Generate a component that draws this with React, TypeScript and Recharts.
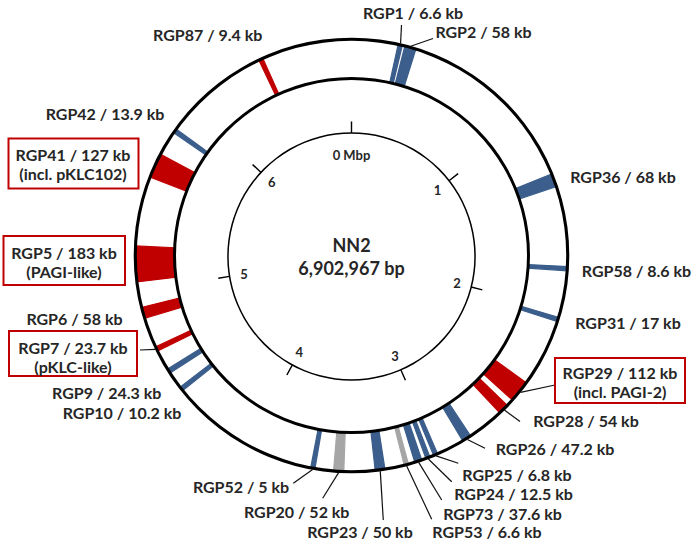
import { PieChart, Pie, Cell } from "recharts";

// genome NN2
const GENOME_KB = 6902.967;
const GENOME_LABEL = "6,902,967 bp";
const STRAIN = "NN2";

// regions of genomic plasticity, in genome order (centre position)
const RGP_NAMES = [
  "RGP1", "RGP2", "RGP36", "RGP58", "RGP31", "RGP29", "RGP28", "RGP26",
  "RGP25", "RGP24", "RGP73", "RGP53", "RGP23", "RGP20", "RGP52", "RGP10",
  "RGP9", "RGP7", "RGP6", "RGP5", "RGP41", "RGP42", "RGP87",
];
const RGP_CENTER_KB = [
  250, 303, 1334.6, 1792.9, 2055.6, 2473.6, 2594.4, 2834.1,
  3012.4, 3054.6, 3106.4, 3169.7, 3305.8, 3516.7, 3649.0, 4446.7,
  4557.9, 4686.4, 4882.0, 5134.1, 5649.0, 5852.3, 6427.5,
];
const RGP_SIZE_KB = [
  6.6, 58, 68, 8.6, 17, 112, 54, 47.2,
  6.8, 12.5, 37.6, 6.6, 50, 52, 5, 10.2,
  24.3, 23.7, 58, 183, 127, 13.9, 9.4,
];
const RGP_KIND = [
  "blue", "blue", "blue", "blue", "blue", "red", "red", "blue",
  "blue", "blue", "blue", "grey", "blue", "grey", "blue", "blue",
  "blue", "red", "red", "red", "red", "blue", "red",
];
const RGP_NOTES: Record<string, string> = {
  RGP41: "(incl. pKLC102)",
  RGP5: "(PAGI-like)",
  RGP7: "(pKLC-like)",
  RGP29: "(incl. PAGI-2)",
};

const TICK_MBP = [0, 1, 2, 3, 4, 5, 6];
const TICK_LABELS = ["0 Mbp", "1", "2", "3", "4", "5", "6"];

// ---- styling / layout ----
const COLORS: Record<string, string> = {
  blue: "#3B5E8C",
  red: "#C00000",
  grey: "#A6A6A6",
};
const TEXT = "#262626";
const FONT = "Lato, 'Open Sans', sans-serif";
const CX = 351.5;
const CY = 255.5;
const MIN_KB = 22; // thinnest drawn width
const TICK_KB = 12;

// text centre, optional leader end, optional box
type Lay = { x: number; y: number; lx?: number; ly?: number; box?: [number, number, number, number] };
const LABEL_LAYOUT: Record<string, Lay> = {
  RGP1: { x: 413, y: 12, lx: 401.5, ly: 25 },
  RGP2: { x: 483.5, y: 31, lx: 433, ly: 38.5 },
  RGP36: { x: 623, y: 176 },
  RGP58: { x: 636.5, y: 270 },
  RGP31: { x: 628, y: 322 },
  RGP29: { x: 620, y: 372, lx: 555, ly: 385, box: [555, 358, 130, 45] },
  RGP28: { x: 586, y: 420, lx: 520, ly: 421.5 },
  RGP26: { x: 555, y: 448.5, lx: 485, ly: 448.3 },
  RGP25: { x: 517, y: 474.5, lx: 458.3, ly: 463.3 },
  RGP24: { x: 513.5, y: 493.5, lx: 451.7, ly: 481.7 },
  RGP73: { x: 502.5, y: 513.5, lx: 441.7, ly: 500 },
  RGP53: { x: 487, y: 531.5, lx: 431.7, ly: 519.3 },
  RGP23: { x: 360, y: 531.5, lx: 383.3, ly: 520 },
  RGP20: { x: 296.7, y: 511.5, lx: 322.7, ly: 498.3 },
  RGP52: { x: 241, y: 486, lx: 293.3, ly: 483.3 },
  RGP10: { x: 122, y: 412.3 },
  RGP9: { x: 106.7, y: 392.3 },
  RGP7: { x: 73, y: 347, lx: 140, ly: 350, box: [9, 331, 128, 45] },
  RGP6: { x: 74.5, y: 318.3 },
  RGP5: { x: 64, y: 252, box: [3.5, 236, 121.5, 49] },
  RGP41: { x: 73, y: 154, box: [8.5, 138.5, 130, 50] },
  RGP42: { x: 105, y: 113.5 },
  RGP87: { x: 207.7, y: 34 },
};

type Slice = { name: string; value: number; idx: number };

const buildRing = (): Slice[] => {
  const out: Slice[] = [];
  let cursor = 0;
  RGP_NAMES.forEach((name, i) => {
    const w = Math.max(RGP_SIZE_KB[i], MIN_KB);
    const start = RGP_CENTER_KB[i] - w / 2;
    out.push({ name: `gap${i}`, value: start - cursor, idx: -1 });
    out.push({ name, value: w, idx: i });
    cursor = start + w;
  });
  out.push({ name: "gapEnd", value: GENOME_KB - cursor, idx: -1 });
  return out;
};

const buildTicks = (): Slice[] => {
  const out: Slice[] = [];
  let cursor = 0;
  TICK_MBP.forEach((mb, i) => {
    const pos = mb * 1000;
    if (pos > cursor) out.push({ name: `tgap${i}`, value: pos - cursor, idx: -1 });
    out.push({ name: TICK_LABELS[i], value: TICK_KB, idx: i });
    cursor = pos + TICK_KB;
  });
  out.push({ name: "tgapEnd", value: GENOME_KB - cursor, idx: -1 });
  return out;
};

const RING = buildRing();
const TICKS = buildTicks();
const FULL = [{ name: "all", value: 1 }];

const RAD = Math.PI / 180;
const polar = (cx: number, cy: number, r: number, a: number) => ({
  x: cx + r * Math.cos(-a * RAD),
  y: cy + r * Math.sin(-a * RAD),
});

const textStyle = {
  fontFamily: FONT,
  fontSize: 16,
  fontWeight: 700,
  fill: TEXT,
};

const renderRgpLabel = (props: any) => {
  const { cx, cy, midAngle, index } = props;
  const slice = RING[index];
  if (!slice || slice.idx < 0) return null;
  const lay = LABEL_LAYOUT[slice.name];
  if (!lay) return null;
  const text = `${slice.name} / ${RGP_SIZE_KB[slice.idx]} kb`;
  const note = RGP_NOTES[slice.name];
  const p = polar(cx, cy, 217.5, midAngle);
  return (
    <g key={`rgp-${slice.name}`}>
      {lay.lx !== undefined && (
        <line x1={p.x} y1={p.y} x2={lay.lx} y2={lay.ly} stroke="#111" strokeWidth={1.2} />
      )}
      {lay.box && (
        <rect
          x={lay.box[0]}
          y={lay.box[1]}
          width={lay.box[2]}
          height={lay.box[3]}
          fill="#fff"
          stroke={COLORS.red}
          strokeWidth={2}
        />
      )}
      <text x={lay.x} y={lay.y} textAnchor="middle" dominantBaseline="central" style={textStyle}>
        {text}
      </text>
      {note && (
        <text x={lay.x} y={lay.y + 19.5} textAnchor="middle" dominantBaseline="central" style={textStyle}>
          {note}
        </text>
      )}
    </g>
  );
};

const renderTickLabel = (props: any) => {
  const { cx, cy, midAngle, index } = props;
  const slice = TICKS[index];
  if (!slice || slice.idx < 0) return null;
  const r = slice.idx === 0 ? 102 : 109;
  const p = polar(cx, cy, r, midAngle);
  return (
    <text
      key={`tick-${slice.idx}`}
      x={p.x}
      y={p.y}
      textAnchor="middle"
      dominantBaseline="central"
      style={{ fontFamily: FONT, fontSize: 13, fontWeight: 700, fill: TEXT }}
    >
      {slice.name}
    </text>
  );
};

const renderCentre = (props: any) => {
  const { cx, cy } = props;
  const st = { fontFamily: FONT, fontSize: 18, fontWeight: 700, fill: TEXT };
  return (
    <g key="centre">
      <text x={cx} y={cy - 11.5} textAnchor="middle" dominantBaseline="central" style={st}>
        {STRAIN}
      </text>
      <text x={cx} y={cy + 11.5} textAnchor="middle" dominantBaseline="central" style={st}>
        {GENOME_LABEL}
      </text>
    </g>
  );
};

export default function App() {
  const tickStart = 90 + ((TICK_KB / 2) / GENOME_KB) * 360;
  return (
    <div style={{ position: "absolute", left: 0, top: 0, width: 693, height: 542, background: "#fff" }}>
      <PieChart width={693} height={542} margin={{ top: 0, right: 0, bottom: 0, left: 0 }}>
        {/* RGP segments */}
        <Pie
          data={RING}
          dataKey="value"
          nameKey="name"
          cx={CX}
          cy={CY}
          innerRadius={177}
          outerRadius={216}
          startAngle={90}
          endAngle={-270}
          stroke="none"
          label={renderRgpLabel}
          labelLine={false}
          isAnimationActive={false}
        >
          {RING.map((s, i) => (
            <Cell
              key={`c-${i}`}
              fill={s.idx < 0 ? "none" : COLORS[RGP_KIND[s.idx]]}
              stroke={s.idx < 0 ? "none" : COLORS[RGP_KIND[s.idx]]}
              strokeWidth={s.idx < 0 ? 0 : 1.2}
            />
          ))}
        </Pie>
        {/* ring borders */}
        <Pie
          data={FULL}
          dataKey="value"
          cx={CX}
          cy={CY}
          innerRadius={214.7}
          outerRadius={217.8}
          startAngle={90}
          endAngle={-270}
          fill="#000"
          stroke="none"
          isAnimationActive={false}
        />
        <Pie
          data={FULL}
          dataKey="value"
          cx={CX}
          cy={CY}
          innerRadius={175.5}
          outerRadius={178.5}
          startAngle={90}
          endAngle={-270}
          fill="#000"
          stroke="none"
          isAnimationActive={false}
        />
        {/* scale circle */}
        <Pie
          data={FULL}
          dataKey="value"
          cx={CX}
          cy={CY + 1}
          innerRadius={122.8}
          outerRadius={124.3}
          startAngle={90}
          endAngle={-270}
          fill="#000"
          stroke="none"
          label={renderCentre}
          labelLine={false}
          isAnimationActive={false}
        />
        {/* Mbp ticks */}
        <Pie
          data={TICKS}
          dataKey="value"
          nameKey="name"
          cx={CX}
          cy={CY + 1}
          innerRadius={123.5}
          outerRadius={135}
          startAngle={tickStart}
          endAngle={tickStart - 360}
          stroke="none"
          label={renderTickLabel}
          labelLine={false}
          isAnimationActive={false}
        >
          {TICKS.map((s, i) => (
            <Cell key={`t-${i}`} fill={s.idx < 0 ? "none" : "#000"} />
          ))}
        </Pie>
      </PieChart>
    </div>
  );
}
